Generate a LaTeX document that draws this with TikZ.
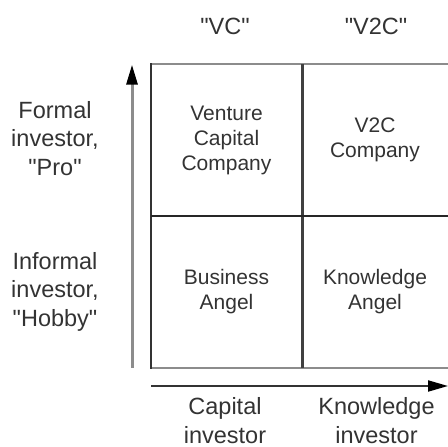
\documentclass[tikz,border=0pt]{standalone}
\usepackage{fontspec}
\setmainfont{Liberation Sans}
\usepackage{xcolor}
\usetikzlibrary{arrows.meta}

\newcommand{\q}[1]{\textquotedbl#1\textquotedbl}

\begin{document}
\begin{tikzpicture}[x=1pt, y=1pt, >={Triangle[length=20pt, width=11pt, color=black]},
        cell/.style={align=center, text=black!80, font=\fontsize{21}{25}\selectfont},
        side/.style={align=center, text=black!80, font=\fontsize{23.5}{28.5}\selectfont}]
        \useasboundingbox (0, 0) rectangle (448, 447);

        % the 2x2 grid
        \draw [line width=2pt, black!45] (151, 382.5) -- (448, 382.5);
        \draw [line width=2.5pt, black!45] (151, 79) -- (448, 79);
        \draw [line width=2.2pt, black!80] (151, 383.5) -- (151, 78);
        \draw [line width=3pt, black!75] (302, 382.5) -- (302, 79);
        \draw [line width=2pt, black!85] (151, 231) -- (448, 231);

        % axes
        \coordinate (ybot) at (132, 79);
        \coordinate (ytop) at (132, 382.3);
        \coordinate (xleft) at (151, 61);
        \coordinate (xright) at (448, 61);
        \draw [->, line width=3pt, black!45] (ybot) -- (ytop);
        \draw [->, line width=2pt, black!80] (xleft) -- (xright);

        % row and column labels
        \node [side, anchor=base] (vc) at (225, 412) {\q{VC}};
        \node [side, anchor=base] (v2c) at (376, 412) {\q{V2C}};
        \node [side] (pro) at (55, 308.5) {Formal\\investor,\\\q{Pro}};
        \node [side] (hobby) at (55, 155.5) {Informal\\investor,\\\q{Hobby}};
        \node [side, font=\fontsize{23.5}{29}\selectfont] (capinv) at (225, 26.5) {Capital\\investor};
        \node [side, font=\fontsize{23.5}{29}\selectfont] (knowinv) at (376.5, 26.5) {Knowledge\\investor};

        % cells
        \node [cell] (vcc) at (226.5, 306.75) {Venture\\Capital\\Company};
        \node [cell] (v2cc) at (375, 306.75) {V2C\\Company};
        \node [cell] (ba) at (226.5, 155) {Business\\Angel};
        \node [cell] (ka) at (375, 155) {Knowledge\\Angel};
\end{tikzpicture}
\end{document}
